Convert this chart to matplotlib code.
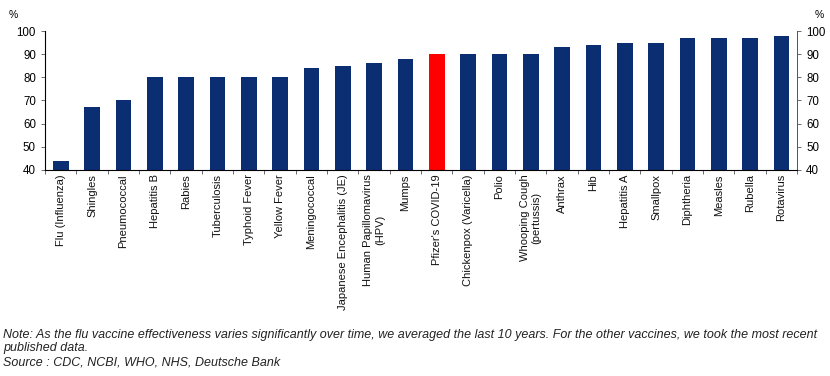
import matplotlib.pyplot as plt
import numpy as np

plt.rcParams['font.family'] = ['Liberation Sans', 'DejaVu Sans']

vaccines = ["Flu (Influenza)", "Shingles", "Pneumococcal", "Hepatitis B", "Rabies",
            "Tuberculosis", "Typhoid Fever", "Yellow Fever", "Meningococcal",
            "Japanese Encephalitis (JE)", "Human Papillomavirus\n(HPV)", "Mumps",
            "Pfizer's COVID-19", "Chickenpox (Varicella)", "Polio",
            "Whooping Cough\n(pertussis)", "Anthrax", "Hib", "Hepatitis A", "Smallpox",
            "Diphtheria", "Measles", "Rubella", "Rotavirus"]
effectiveness = [44, 67, 70, 80, 80, 80, 80, 80, 84, 85, 86, 88,
                 90, 90, 90, 90, 93, 94, 95, 95, 97, 97, 97, 98]
highlight = "Pfizer's COVID-19"

navy = "#0b2d72"
colors = ["#ff0000" if v == highlight else navy for v in vaccines]

fig = plt.figure(figsize=(8.3, 3.76), dpi=100)
ax = fig.add_axes([45 / 830, 1 - 170 / 376, 752 / 830, 139 / 376])

x = np.arange(len(vaccines))
ax.bar(x, effectiveness, width=0.5, color=colors, bottom=0)
ax.set_xlim(-0.5, len(vaccines) - 0.5)
ax.set_ylim(40, 100)
ax.set_yticks(range(40, 101, 10))

# category labels under each bar, tick marks on the boundaries
ax.set_xticks(np.arange(len(vaccines) + 1) - 0.5)
ax.set_xticklabels([])
ax.tick_params(axis='x', length=3, width=0.6, color="#555555")
for i, name in enumerate(vaccines):
    ax.text(i, 38.2, name, rotation=90, ha='center', va='top', fontsize=8,
            transform=ax.transData, multialignment='center', color="#111111")

ax.tick_params(axis='y', length=3, width=0.6, color="#555555", labelsize=8.3)
ax.spines['top'].set_visible(False)
for s in ['left', 'bottom', 'right']:
    ax.spines[s].set_linewidth(0.6)
    ax.spines[s].set_color("#555555")

ax2 = ax.twinx()
ax2.set_ylim(40, 100)
ax2.set_yticks(range(40, 101, 10))
ax2.tick_params(axis='y', length=3, width=0.6, color="#555555", labelsize=8.3)
ax2.spines['top'].set_visible(False)
ax2.spines['right'].set_linewidth(0.6)
ax2.spines['right'].set_color("#555555")

fig.text(13 / 830, 1 - 15 / 376, "%", fontsize=7.5, ha='center', va='center')
fig.text(819 / 830, 1 - 15 / 376, "%", fontsize=7.5, ha='center', va='center')

fig.text(3 / 830, 1 - 348.5 / 376,
         "Note: As the flu vaccine effectiveness varies significantly over time, we averaged the last 10 years. "
         "For the other vaccines, we took the most recent\npublished data.\n"
         "Source : CDC, NCBI, WHO, NHS, Deutsche Bank",
         fontsize=9.0, style='italic', va='center', ha='left',
         linespacing=1.19, color="#222222")

fig.savefig("out.png", dpi=100)
